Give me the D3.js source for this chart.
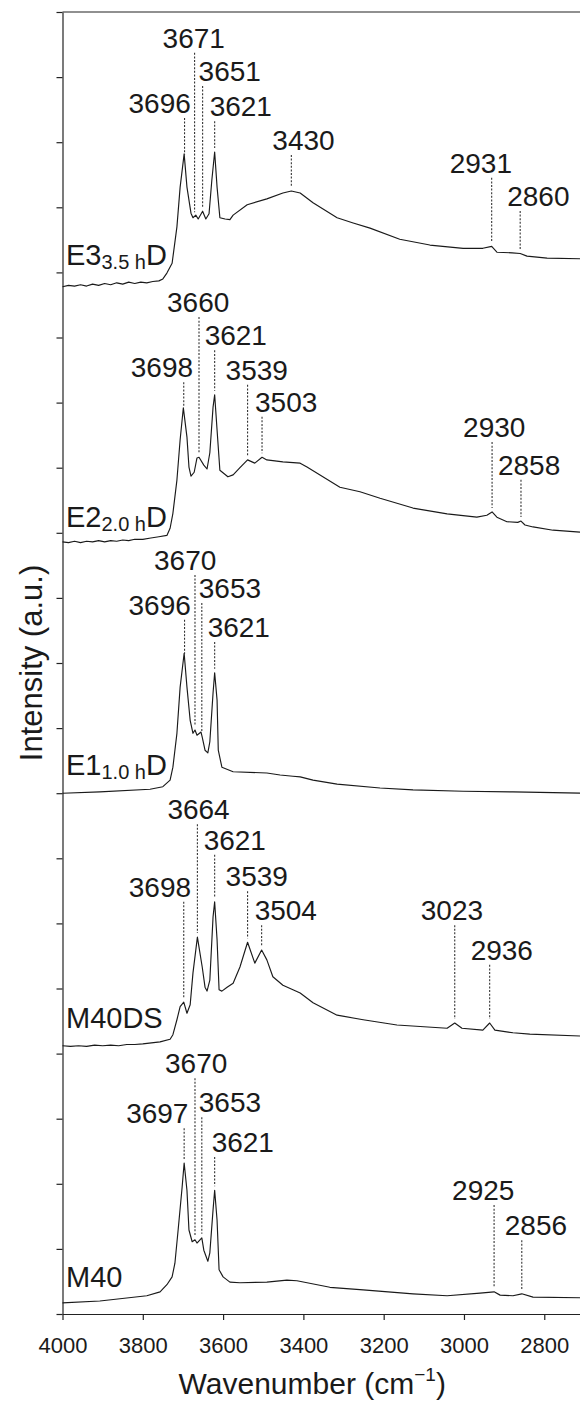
<!DOCTYPE html>
<html>
<head>
<meta charset="utf-8">
<script src="https://cdn.jsdelivr.net/npm/d3@7"></script>
<style>
  body { margin: 0; background: #fff; }
  text { font-family: "Liberation Sans", Arial, sans-serif; fill: #1a1a1a; }
</style>
</head>
<body>
<svg id="chart"></svg>
<script>
// ---- data ----
var sampleNames = ["E3", "E2", "E1", "M40DS", "M40"];
var sampleSubs = ["3.5 h", "2.0 h", "1.0 h", "", ""];

// [wavenumber, intensity (stacked, a.u.)]
var specE3 = [[4000,15.78],[3985,15.80],[3970,15.79],[3955,15.81],[3940,15.79],[3925,15.82],[3910,15.80],[3895,15.83],
  [3880,15.81],[3865,15.84],[3850,15.82],[3835,15.85],[3820,15.83],[3805,15.85],[3790,15.84],[3775,15.86],[3760,15.87],
  [3750,15.90],[3740,15.99],[3727,16.14],[3715,16.70],[3707,17.31],[3697,17.82],[3690,17.31],[3680,16.91],[3675,16.84],
  [3668,16.88],[3662,16.82],[3651,16.94],[3643,16.82],[3635,16.90],[3628,17.42],[3621,17.85],[3615,17.31],[3608,16.84],
  [3595,16.82],[3583,16.81],[3575,16.88],[3540,17.04],[3491,17.13],[3451,17.22],[3430,17.25],[3408,17.22],[3376,17.07],
  [3316,16.84],[3276,16.76],[3234,16.68],[3160,16.51],[3085,16.42],[3002,16.37],[2953,16.37],[2931,16.40],[2918,16.31],
  [2880,16.30],[2860,16.29],[2843,16.25],[2793,16.22],[2711,16.21]];

var specE2 = [[4000,11.86],[3985,11.85],[3970,11.87],[3955,11.85],[3940,11.87],[3925,11.86],[3910,11.88],[3895,11.86],
  [3880,11.88],[3865,11.87],[3850,11.89],[3835,11.88],[3820,11.90],[3800,11.90],[3780,11.92],[3760,11.94],[3740,11.96],
  [3732,12.07],[3725,12.30],[3715,12.81],[3707,13.43],[3699,13.92],[3690,13.47],[3685,13.01],[3680,12.87],[3672,12.93],
  [3665,13.15],[3660,13.16],[3648,13.04],[3640,12.98],[3633,13.23],[3625,13.93],[3621,14.12],[3615,13.58],[3608,12.96],
  [3588,12.86],[3575,12.89],[3558,13.00],[3539,13.12],[3521,13.07],[3503,13.16],[3491,13.12],[3451,13.09],[3408,13.07],
  [3391,13.01],[3309,12.70],[3259,12.63],[3209,12.53],[3127,12.38],[3042,12.29],[2968,12.24],[2943,12.27],[2930,12.32],
  [2918,12.24],[2893,12.17],[2866,12.16],[2858,12.18],[2848,12.12],[2828,12.09],[2778,12.04],[2711,12.01]];

var specE1 = [[4000,8.00],[3907,8.02],[3782,8.06],[3750,8.10],[3732,8.20],[3725,8.40],[3715,8.92],[3707,9.63],
  [3697,10.15],[3690,9.63],[3682,9.12],[3675,8.92],[3670,8.97],[3665,8.89],[3655,8.94],[3652,8.86],[3645,8.66],
  [3638,8.62],[3633,8.79],[3625,9.54],[3621,9.85],[3615,9.43],[3612,8.66],[3603,8.40],[3575,8.33],[3491,8.31],
  [3458,8.28],[3426,8.26],[3408,8.25],[3376,8.20],[3316,8.14],[3209,8.08],[3127,8.05],[3002,8.03],[2878,8.02],
  [2711,8.00]];

var specM40DS = [[4000,4.12],[3980,4.11],[3960,4.12],[3940,4.11],[3920,4.13],[3900,4.12],[3880,4.13],[3860,4.12],
  [3840,4.14],[3820,4.14],[3800,4.15],[3757,4.18],[3732,4.22],[3725,4.29],[3715,4.52],[3707,4.72],[3698,4.79],
  [3690,4.62],[3682,4.75],[3675,5.24],[3664,5.79],[3652,5.33],[3645,5.02],[3640,4.96],[3633,5.13],[3625,6.10],
  [3621,6.33],[3615,5.75],[3610,4.98],[3603,4.96],[3590,5.02],[3575,5.08],[3558,5.33],[3539,5.71],[3521,5.39],
  [3504,5.59],[3491,5.44],[3476,5.18],[3451,5.05],[3426,4.98],[3408,4.93],[3376,4.78],[3316,4.59],[3251,4.52],
  [3167,4.44],[3042,4.39],[3023,4.47],[3005,4.39],[2953,4.36],[2936,4.47],[2923,4.36],[2878,4.32],[2836,4.30],
  [2711,4.27]];

var specM40 = [[4000,0.17],[3907,0.20],[3790,0.28],[3757,0.34],[3740,0.45],[3727,0.57],[3720,0.78],[3712,1.29],
  [3702,1.95],[3697,2.32],[3690,1.90],[3685,1.29],[3677,1.11],[3670,1.14],[3665,1.09],[3653,1.17],[3648,0.98],
  [3638,0.81],[3633,0.94],[3625,1.60],[3621,1.90],[3615,1.44],[3610,0.68],[3600,0.57],[3583,0.49],[3558,0.48],
  [3491,0.49],[3441,0.52],[3416,0.51],[3334,0.41],[3251,0.37],[3127,0.31],[3042,0.28],[2960,0.32],[2925,0.34],
  [2910,0.29],[2878,0.28],[2856,0.31],[2828,0.26],[2711,0.25]];

var spectra = [specE3, specE2, specE1, specM40DS, specM40];

// labelled band positions (cm-1)
var peaksE3 = [3696, 3671, 3651, 3621, 3430, 2931, 2860];
var peaksE2 = [3698, 3660, 3621, 3539, 3503, 2930, 2858];
var peaksE1 = [3696, 3670, 3653, 3621];
var peaksM40DS = [3698, 3664, 3621, 3539, 3504, 3023, 2936];
var peaksM40 = [3697, 3670, 3653, 3621, 2925, 2856];
var peakSets = [peaksE3, peaksE2, peaksE1, peaksM40DS, peaksM40];

var xTicks = [4000, 3800, 3600, 3400, 3200, 3000, 2800];
var yTicks = d3.range(0, 21);

// ---- layout (label placement, kept apart from the data) ----
// label baseline in y units, horizontal shift of the label's left edge in px
var labelLevel = [
  [18.45, 19.45, 18.94, 18.40, 17.88, 17.53, 17.02],
  [14.39, 15.39, 14.88, 14.35, 13.86, 13.47, 12.89],
  [10.74, 11.43, 11.00, 10.40],
  [6.41, 7.60, 7.13, 6.57, 6.05, 6.05, 5.44],
  [2.93, 3.70, 3.10, 2.49, 1.75, 1.21]
];
var labelShift = [
  [-56, -32, -4, -5, -19, -42, -13],
  [-53, -32, -10, -22, -7, -29, -23],
  [-56, -41, -3, -7],
  [-55, -30, -11, -22, -7, -34, -19],
  [-58, -30, -3, -3, -42, -17]
];
var nameLevel = [16.11, 12.09, 8.28, 4.39, 0.41];

var W = 580, H = 1402;
var padL = 62.5, padR = 580, padT = 12, padB = 1314;

var svg = d3.select("#chart").attr("width", W).attr("height", H);

var x = d3.scaleLinear().domain([4000, 2711]).range([padL, padR]);
var y = d3.scaleLinear().domain([0, 20]).range([padB, padT]);

// axes
var xAxis = svg.append("g")
  .attr("transform", "translate(0," + padB + ")")
  .call(d3.axisBottom(x).tickValues(xTicks).tickFormat(d3.format("d"))
    .tickSize(6).tickSizeOuter(0).tickPadding(17));
xAxis.selectAll("text").style("font-size", "22px").attr("fill", "#1a1a1a");

var yAxis = svg.append("g")
  .attr("transform", "translate(" + padL + ",0)")
  .call(d3.axisLeft(y).tickValues(yTicks).tickSize(6).tickSizeOuter(0).tickFormat(""));

svg.selectAll(".domain, .tick line").attr("stroke", "#222").attr("stroke-width", 1.2);

// top frame line
svg.append("line")
  .attr("x1", padL).attr("x2", padR)
  .attr("y1", y(20)).attr("y2", y(20))
  .attr("stroke", "#222").attr("stroke-width", 1.2);

// spectra
var line = d3.line().x(function (d) { return x(d[0]); }).y(function (d) { return y(d[1]); });

svg.append("g").selectAll("path")
  .data(spectra)
  .enter().append("path")
  .attr("d", line)
  .attr("fill", "none")
  .attr("stroke", "#1a1a1a")
  .attr("stroke-width", 1.15)
  .attr("stroke-linejoin", "round");

function valueAt(spec, wn) {
  for (var i = 0; i < spec.length - 1; i++) {
    var a = spec[i], b = spec[i + 1];
    if (wn <= a[0] && wn >= b[0]) {
      var t = (a[0] - wn) / (a[0] - b[0]);
      return a[1] + t * (b[1] - a[1]);
    }
  }
  return spec[spec.length - 1][1];
}

// band markers
var marks = svg.append("g");
peakSets.forEach(function (peaks, s) {
  peaks.forEach(function (wn, k) {
    var px = x(wn);
    var ty = y(labelLevel[s][k]);
    marks.append("line")
      .attr("x1", px).attr("x2", px)
      .attr("y1", ty + 5)
      .attr("y2", y(valueAt(spectra[s], wn)) - 4)
      .attr("stroke", "#333")
      .attr("stroke-width", 1.1)
      .attr("stroke-dasharray", "2,1.6");
    marks.append("text")
      .attr("x", px + labelShift[s][k])
      .attr("y", ty)
      .style("font-size", "28px")
      .text(wn);
  });
});

// sample names
sampleNames.forEach(function (name, s) {
  var t = svg.append("text")
    .attr("x", 66)
    .attr("y", y(nameLevel[s]))
    .style("font-size", "29px");
  if (sampleSubs[s]) {
    t.append("tspan").text(name.slice(0, 2));
    t.append("tspan").attr("dy", 4).style("font-size", "20px").text(sampleSubs[s]);
    t.append("tspan").attr("dy", -4).text("D");
  } else {
    t.text(name);
  }
});

// axis titles
var xt = svg.append("text")
  .attr("x", (padL + padR) / 2 - 9)
  .attr("y", 1394)
  .attr("text-anchor", "middle")
  .style("font-size", "30px");
xt.append("tspan").text("Wavenumber (cm");
xt.append("tspan").attr("dy", -13).style("font-size", "19px").text("\u22121");
xt.append("tspan").attr("dy", 13).text(")");

svg.append("text")
  .attr("transform", "translate(42," + ((padT + padB) / 2) + ") rotate(-90)")
  .attr("text-anchor", "middle")
  .style("font-size", "31px")
  .text("Intensity (a.u.)");
</script>
</body>
</html>
